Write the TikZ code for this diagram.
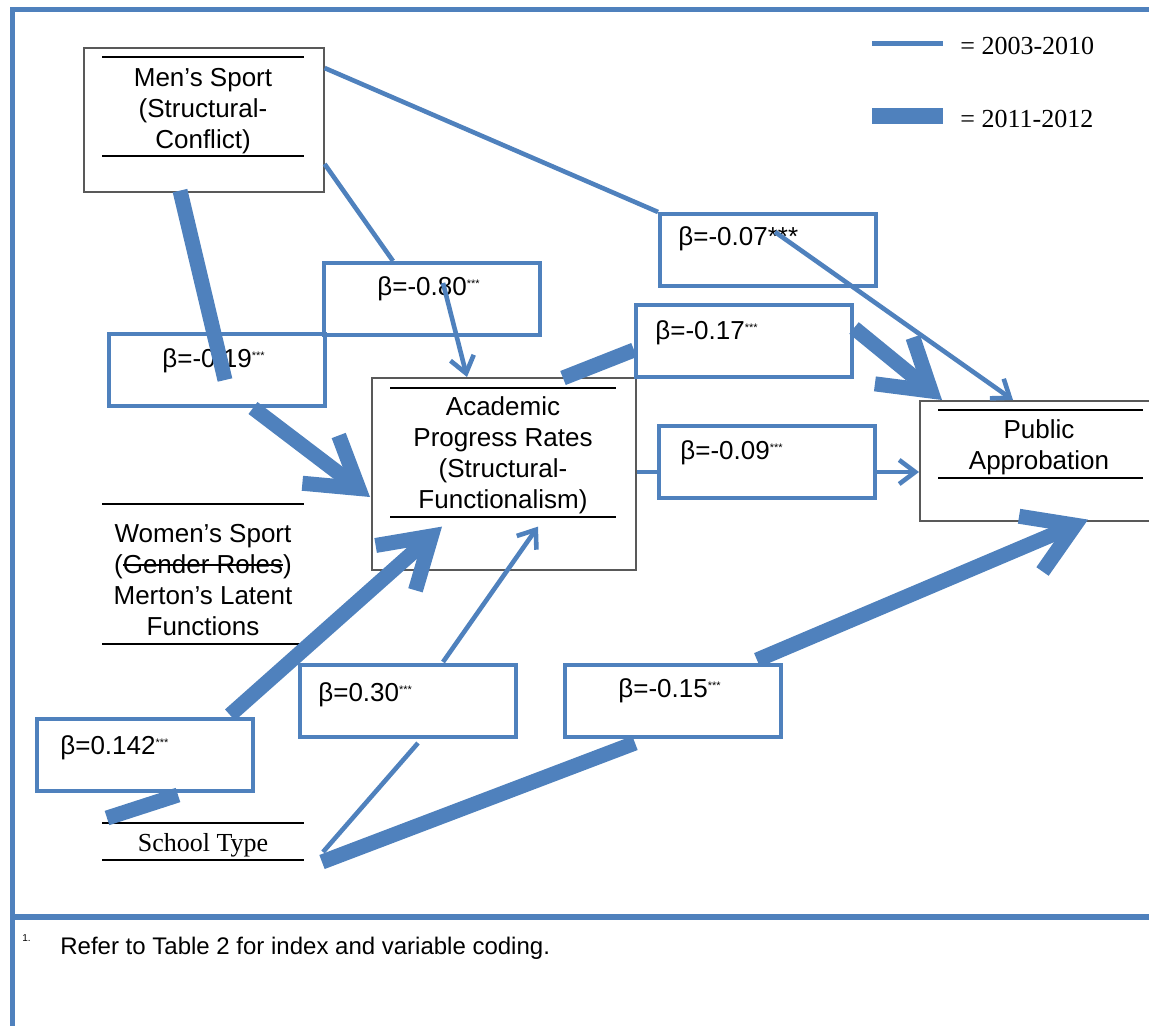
\documentclass[tikz,border=0pt]{standalone}
\usepackage{fontspec}
\setmainfont{Liberation Sans}
\newfontfamily\timesfont{Liberation Serif}
\usepackage{xcolor}
\usepackage{tikz}
\usetikzlibrary{arrows.meta}
\definecolor{pathblue}{RGB}{79,129,189}
\newcommand{\stars}{\raisebox{0.55ex}{\fontsize{5.5}{5.5}\selectfont ***}}
\newsavebox\strikebox
\newcommand{\strikeout}[1]{\sbox\strikebox{#1}\rlap{\rule[0.3em]{\wd\strikebox}{0.6pt}}\usebox\strikebox}

\begin{document}
\begin{tikzpicture}[x=0.5pt,y=-0.5pt,
  varbox/.style={draw=black!65, line width=0.8pt, inner sep=0, anchor=north west},
  coefbox/.style={draw=pathblue, line width=2pt, inner sep=0, anchor=north west,
    minimum width=108pt, minimum height=36pt},
  vartext/.style={align=center, inner sep=0, font=\fontsize{13}{15.5}\selectfont},
  coeftext/.style={anchor=base west, inner sep=0, font=\fontsize{13}{15.5}\selectfont},
  rule/.style={black, line width=0.7pt},
  thinpath/.style={pathblue, line width=2.3pt},
  thickpath/.style={pathblue, line width=7.5pt},
  thinarrow/.style={thinpath, -{Straight Barb[length=8pt, width=12pt]}},
  thickarrow/.style={thickpath, -{Straight Barb[length=24pt, width=30pt]}}]
\useasboundingbox (0,0) rectangle (1149,1026);

% frame
\draw[pathblue, line width=2.5pt] (1149,10) -- (12,10) -- (12,1026);
\draw[pathblue, line width=2.8pt] (12,917) -- (1149,917);

% legend
\draw[thinpath, line width=2.5pt] (872,44) -- (943,44);
\fill[pathblue] (872,108) rectangle (943,124);
\node[anchor=west, inner sep=0, font=\timesfont\fontsize{13}{15}\selectfont] (legthin) at (960,46) {= 2003-2010};
\node[anchor=west, inner sep=0, font=\timesfont\fontsize{13}{15}\selectfont] (legthick) at (960,119) {= 2011-2012};

% variables
\node[varbox, minimum width=120pt, minimum height=72pt] (men) at (83,47) {};
\node[vartext] (mentxt) at (203,111) {Men’s Sport\\(Structural-\\Conflict)};
\draw[rule] (102,57) -- (304,57);
\draw[rule] (102,156) -- (304,156);

\node[varbox, minimum width=132pt, minimum height=96pt] (acad) at (371,377) {};
\node[vartext] (acadtxt) at (503,455) {Academic\\Progress Rates\\(Structural-\\Functionalism)};
\draw[rule] (390,388) -- (616,388);
\draw[rule] (390,517) -- (616,517);

\node[varbox, minimum width=120pt, minimum height=60pt] (pub) at (919,400) {};
\node[vartext] (pubtxt) at (1039,447) {Public\\Approbation};
\draw[rule] (938,410) -- (1143,410);
\draw[rule] (938,478) -- (1143,478);

\node[vartext] (women) at (203,580) {Women’s Sport\\(\strikeout{Gender Roles})\\Merton’s Latent\\Functions};
\draw[rule] (102,504) -- (304,504);
\draw[rule] (102,644) -- (304,644);

\node[vartext, font=\timesfont\fontsize{13}{15}\selectfont] (school) at (203,845) {School Type};
\draw[rule] (102,823) -- (304,823);
\draw[rule] (102,860) -- (304,860);
\coordinate (st) at (322,857);

% coefficients
\node[coefbox] (b07) at (658,212) {};
\node[coeftext] at (678,246) {β=-0.07***};
\node[coefbox] (b80) at (322,261) {};
\node[coeftext] at (377,295) {β=-0.80\stars};
\node[coefbox] (b19) at (107,332) {};
\node[coeftext] at (162,367) {β=-0.19\stars};
\node[coefbox] (b17) at (634,303) {};
\node[coeftext] at (655,339) {β=-0.17\stars};
\node[coefbox] (b09) at (657,424) {};
\node[coeftext] at (680,459) {β=-0.09\stars};
\node[coefbox] (b142) at (35,717) {};
\node[coeftext] at (60,754) {β=0.142\stars};
\node[coefbox] (b30) at (298,663) {};
\node[coeftext] at (318,701) {β=0.30\stars};
\node[coefbox] (b15) at (563,663) {};
\node[coeftext] at (618,697) {β=-0.15\stars};

% paths, 2003-2010
\draw[thinpath] ([shift={(0,21)}]men.north east) -- (b07.north west);
\draw[thinarrow] ([shift={(117,20)}]b07.north west) -- ([shift={(94,0)}]pub.north west);
\draw[thinpath] ([shift={(0,117)}]men.north east) -- ([shift={(71,0)}]b80.north west);
\draw[thinarrow] ([shift={(121,22)}]b80.north west) -- ([shift={(96,0)}]acad.north west);
\draw[thinpath] ([shift={(0,95)}]acad.north east) -- ([shift={(0,48)}]b09.north west);
\draw[thinarrow] ([shift={(0,48)}]b09.north east) -- ([shift={(0,72)}]pub.north west);
\draw[thinpath] ([shift={(1,-5)}]st) -- ([shift={(120,4)}]b30.south west);
\draw[thinarrow] ([shift={(145,-1)}]b30.north west) -- ([shift={(167,-44)}]acad.south west);

% paths, 2011-2012
\draw[thickpath] ([shift={(97,-2)}]men.south west) -- ([shift={(118,48)}]b19.north west);
\draw[thickarrow] ([shift={(146,0)}]b19.south west) -- ([shift={(-1,120)}]acad.north west);
\draw[thickpath] ([shift={(192,1)}]acad.north west) -- ([shift={(0,47)}]b17.north west);
\draw[thickarrow] ([shift={(0,25)}]b17.north east) -- ([shift={(23,0)}]pub.north west);
\draw[thickpath] ([shift={(72,25)}]b142.south west) -- ([shift={(143,2)}]b142.south west);
\draw[thickarrow] ([shift={(195,-2)}]b142.north west) -- ([shift={(71,-44)}]acad.south west);
\draw[thickpath] ([shift={(0,5)}]st) -- ([shift={(72,4)}]b15.south west);
\draw[thickarrow] ([shift={(194,-3)}]b15.north west) -- ([shift={(169,-2)}]pub.south west);

% note
\node[anchor=base west, inner sep=0, font=\fontsize{5}{6}\selectfont] (fnmark) at (22,941) {1.};
\node[anchor=base west, inner sep=0, font=\fontsize{12}{14}\selectfont] (fn) at (60,954) {Refer to Table 2 for index and variable coding.};
\end{tikzpicture}
\end{document}
